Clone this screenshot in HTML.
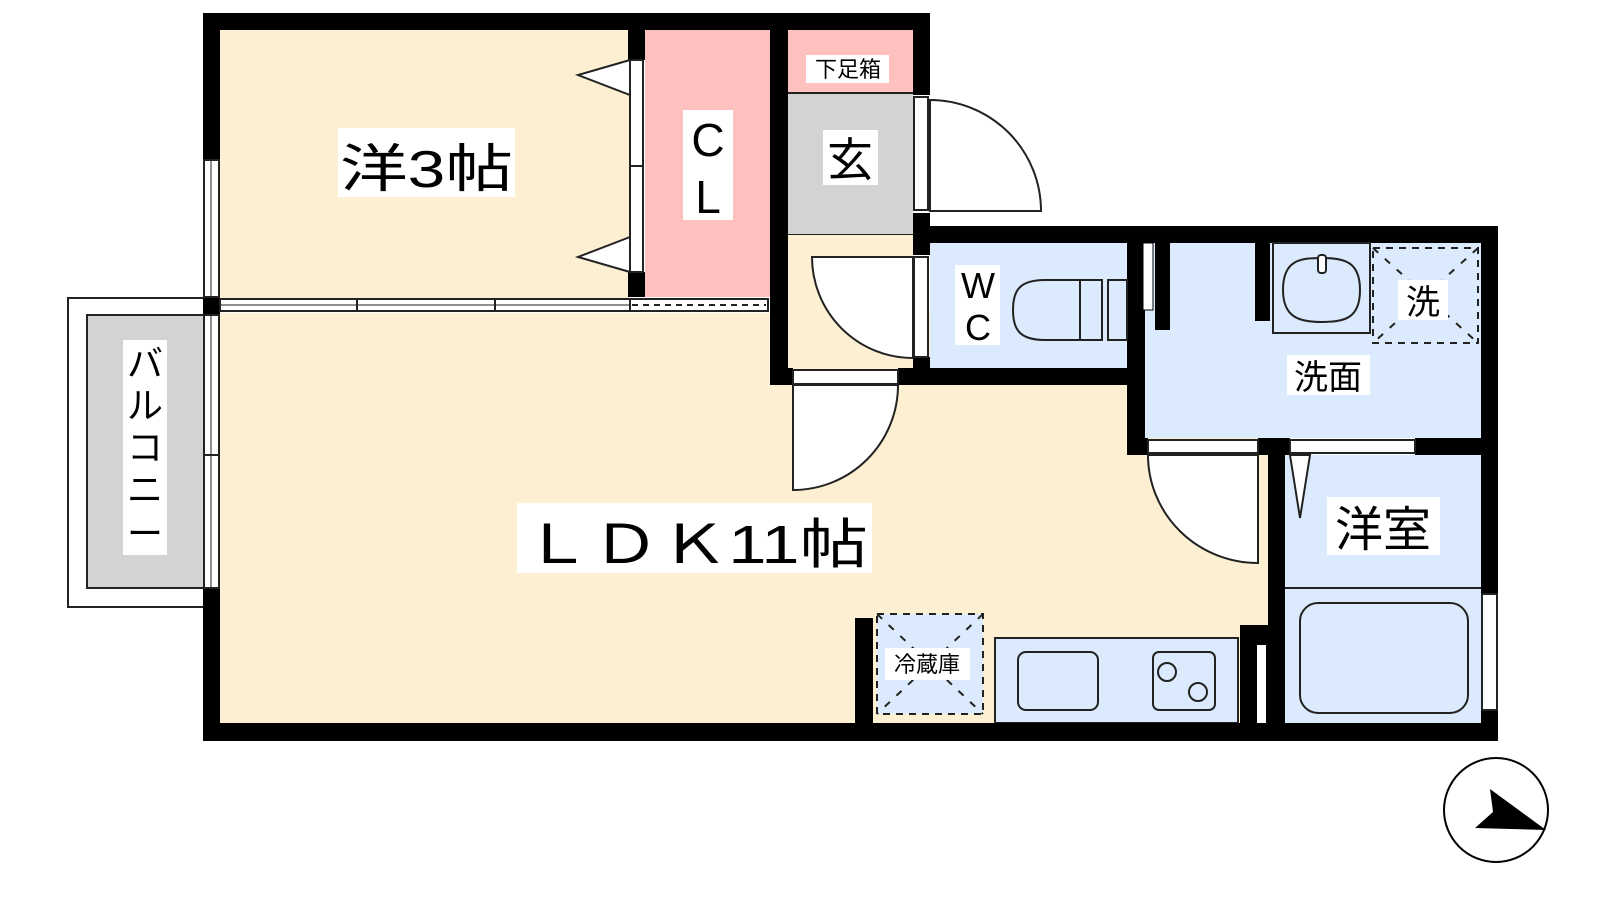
<!DOCTYPE html>
<html><head><meta charset="utf-8"><style>
html,body{margin:0;padding:0;background:#fff;width:1600px;height:900px;overflow:hidden}
svg text{font-family:"Liberation Sans","Noto Sans CJK JP",sans-serif;fill:#000}
</style></head><body>
<svg width="1600" height="900" viewBox="0 0 1600 900" xmlns="http://www.w3.org/2000/svg">
<!-- balcony -->
<rect x="68" y="298" width="140" height="309" fill="#fff" stroke="#222" stroke-width="2"/>
<rect x="87" y="315" width="121" height="273" fill="#d3d3d3" stroke="#222" stroke-width="2"/>
<!-- floors -->
<rect x="220" y="30" width="410" height="268" fill="#fdf0d2"/>
<rect x="220" y="313" width="1050" height="410" fill="#fdf0d2"/>
<rect x="645" y="30" width="125" height="267" fill="#ffc0c0"/>
<rect x="788" y="30" width="125" height="63" fill="#ffc0c0"/>
<rect x="788" y="93" width="125" height="142" fill="#d3d3d3"/>
<line x1="788" y1="93" x2="913" y2="93" stroke="#222" stroke-width="2"/>
<line x1="788" y1="235" x2="913" y2="235" stroke="#222" stroke-width="2"/>
<rect x="788" y="235" width="125" height="135" fill="#fdf0d2"/>
<rect x="930" y="243" width="197" height="125" fill="#dbeafc"/>
<rect x="1145" y="243" width="336" height="195" fill="#dbeafc"/>
<rect x="1285" y="455" width="196" height="268" fill="#dbeafc"/>
<line x1="1285" y1="588" x2="1481" y2="588" stroke="#222" stroke-width="2"/>
<rect x="995" y="638" width="243" height="85" fill="#dbeafc" stroke="#222" stroke-width="2"/>
<rect x="877" y="614" width="106" height="100" fill="#dbeafc" stroke="#222" stroke-width="2" stroke-dasharray="7,6"/>
<line x1="877" y1="614" x2="983" y2="714" stroke="#222" stroke-width="2" stroke-dasharray="7,9"/>
<line x1="983" y1="614" x2="877" y2="714" stroke="#222" stroke-width="2" stroke-dasharray="7,9"/>
<rect x="1018" y="652" width="80" height="58" rx="8" fill="#dbeafc" stroke="#222" stroke-width="2"/>
<rect x="1153" y="652" width="62" height="58" rx="6" fill="#dbeafc" stroke="#222" stroke-width="2"/>
<circle cx="1167" cy="672" r="9" fill="none" stroke="#222" stroke-width="2"/>
<circle cx="1198" cy="692" r="9" fill="none" stroke="#222" stroke-width="2"/>
<rect x="1300" y="603" width="168" height="110" rx="18" fill="#dbeafc" stroke="#222" stroke-width="2"/>
<!-- walls -->
<g fill="#000">
<rect x="203" y="13" width="727" height="17"/>
<rect x="203" y="13" width="17" height="147"/>
<rect x="203" y="588" width="17" height="153"/>
<rect x="203" y="297" width="17" height="18"/>
<rect x="203" y="723" width="1295" height="18"/>
<rect x="913" y="13" width="17" height="82"/>
<rect x="913" y="213" width="17" height="42"/>
<rect x="913" y="357" width="17" height="13"/>
<rect x="913" y="226" width="585" height="17"/>
<rect x="1481" y="226" width="17" height="368"/>
<rect x="1481" y="710" width="17" height="31"/>
<rect x="628" y="30" width="17" height="30"/>
<rect x="628" y="272" width="17" height="25"/>
<rect x="770" y="13" width="18" height="372"/>
<rect x="770" y="368" width="23" height="17"/>
<rect x="898" y="368" width="247" height="17"/>
<rect x="1127" y="243" width="18" height="212"/>
<rect x="1155" y="243" width="15" height="87"/>
<rect x="1255" y="243" width="15" height="78"/>
<rect x="1127" y="438" width="21" height="17"/>
<rect x="1258" y="438" width="32" height="17"/>
<rect x="1415" y="438" width="66" height="17"/>
<rect x="1268" y="455" width="17" height="268"/>
<rect x="1240" y="625" width="28" height="98"/>
<rect x="855" y="618" width="18" height="105"/>
</g>
<rect x="1257" y="645" width="9" height="78" fill="#fff"/>
<rect x="1143" y="243" width="10" height="67" fill="#fff" stroke="#000" stroke-width="1"/>
<!-- windows -->
<g fill="#fff" stroke="#222" stroke-width="2">
<rect x="204" y="160" width="15" height="137"/>
<rect x="204" y="315" width="15" height="273"/>
<rect x="220" y="299" width="410" height="12"/>
<rect x="630" y="299" width="138" height="12"/>
<rect x="1482" y="594" width="15" height="116"/>
<rect x="630" y="60" width="13" height="106"/>
<rect x="630" y="166" width="13" height="106"/>
</g>
<line x1="632" y1="305" x2="766" y2="305" stroke="#222" stroke-width="2" stroke-dasharray="6,5"/>
<line x1="220" y1="305" x2="630" y2="305" stroke="#222" stroke-width="1"/>
<line x1="357" y1="299" x2="357" y2="311" stroke="#222" stroke-width="2"/>
<line x1="495" y1="299" x2="495" y2="311" stroke="#222" stroke-width="2"/>
<line x1="204" y1="455" x2="219" y2="455" stroke="#222" stroke-width="2"/>
<line x1="211" y1="160" x2="211" y2="297" stroke="#222" stroke-width="1"/>
<line x1="211" y1="315" x2="211" y2="588" stroke="#222" stroke-width="1"/>
<!-- closet triangles -->
<polygon points="630,60 578,75 630,95" fill="#fff" stroke="#222" stroke-width="2"/>
<polygon points="630,237 578,257 630,272" fill="#fff" stroke="#222" stroke-width="2"/>
<!-- doors -->
<g fill="#fff" stroke="#222" stroke-width="2">
<rect x="914" y="97" width="14" height="113"/>
<path d="M930,100 A111,111 0 0 1 1041,211 L930,211 Z"/>
<rect x="914" y="257" width="14" height="100"/>
<path d="M913,257 L812,257 A101,101 0 0 0 913,358 Z"/>
<rect x="793" y="370" width="105" height="14"/>
<path d="M793,385 L898,385 A105,105 0 0 1 793,490 Z"/>
<rect x="1148" y="440" width="110" height="13"/>
<path d="M1148,455 L1258,455 L1258,563 A110,108 0 0 1 1148,455 Z"/>
<rect x="1290" y="440" width="125" height="13"/>
<polygon points="1290,455 1310,455 1300,518"/>
<rect x="1273" y="243" width="97" height="90" fill="#dbeafc"/>
<path d="M1283,290 C1283,260 1300,258 1322,258 C1345,258 1360,262 1360,290 C1360,318 1345,322 1322,322 C1300,322 1283,318 1283,290 Z" fill="#dbeafc"/>
<rect x="1318" y="255" width="8" height="18" rx="3"/>
<path d="M1080,280 L1045,280 C1020,280 1013,290 1013,310 C1013,330 1020,340 1045,340 L1080,340" fill="#dbeafc"/>
<rect x="1080" y="280" width="22" height="60" fill="#dbeafc"/>
<rect x="1108" y="280" width="19" height="60" fill="#dbeafc"/>
</g>
<rect x="1373" y="248" width="105" height="95" fill="none" stroke="#222" stroke-width="2" stroke-dasharray="7,6"/>
<line x1="1373" y1="248" x2="1478" y2="343" stroke="#222" stroke-width="2" stroke-dasharray="7,9"/>
<line x1="1478" y1="248" x2="1373" y2="343" stroke="#222" stroke-width="2" stroke-dasharray="7,9"/>
<!-- labels -->
<g fill="#fff">
<rect x="338" y="128" width="177" height="69"/>
<rect x="683" y="110" width="50" height="110"/>
<rect x="823" y="130" width="55" height="55"/>
<rect x="806" y="55" width="83" height="28"/>
<rect x="955" y="265" width="45" height="80"/>
<rect x="1287" y="355" width="83" height="40"/>
<rect x="1398" y="280" width="50" height="40"/>
<rect x="1327" y="497" width="113" height="58"/>
<rect x="517" y="503" width="355" height="70"/>
<rect x="885" y="648" width="85" height="32"/>
<rect x="123" y="340" width="44" height="215"/>
</g>
<text x="340" y="187" font-size="52" textLength="173" lengthAdjust="spacingAndGlyphs">洋3帖</text>
<text x="708" y="156" font-size="46" text-anchor="middle">C</text>
<text x="708" y="213" font-size="46" text-anchor="middle">L</text>
<text x="850" y="176" font-size="46" text-anchor="middle">玄</text>
<text x="848" y="77" font-size="22" text-anchor="middle">下足箱</text>
<text x="978" y="298" font-size="36" text-anchor="middle">W</text>
<text x="978" y="340" font-size="36" text-anchor="middle">C</text>
<text x="1328" y="389" font-size="34" text-anchor="middle">洗面</text>
<text x="1423" y="314" font-size="34" text-anchor="middle">洗</text>
<text x="1383" y="546" font-size="48" text-anchor="middle">洋室</text>
<text x="523" y="563" font-size="54" textLength="345" lengthAdjust="spacingAndGlyphs">ＬＤＫ11帖</text>
<text x="927" y="672" font-size="22" text-anchor="middle">冷蔵庫</text>
<g font-size="36" text-anchor="middle">
<text x="145" y="376">バ</text>
<text x="145" y="418">ル</text>
<text x="145" y="460">コ</text>
<text x="145" y="502">ニ</text>
<text x="145" y="546">ー</text>
</g>
<!-- compass -->
<circle cx="1496" cy="810" r="52" fill="#fff" stroke="#000" stroke-width="2"/>
<polygon points="1490,789 1493,812 1475,828 1546,830" fill="#000"/>
</svg>
</body></html>
